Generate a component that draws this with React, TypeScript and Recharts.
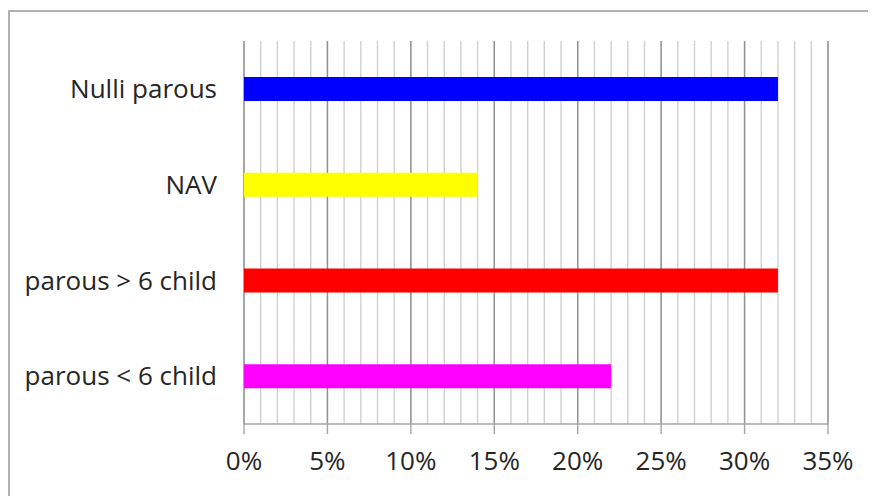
import React from "react";
import { BarChart, Bar, XAxis, YAxis, CartesianGrid, Cell } from "recharts";

const categories = ["Nulli parous", "NAV", "parous > 6 child", "parous < 6 child"];
const values = [32, 14, 32, 22];
const colors = ["#0000ff", "#ffff00", "#ff0000", "#ff00ff"];
const majorTicks = [0, 5, 10, 15, 20, 25, 30, 35];
const allTicks = Array.from({ length: 36 }, (_, i) => i);
const DOMAIN_MAX = 35;

const data = categories.map((c, i) => ({ name: c, value: values[i] }));

const FONT = "'Open Sans', sans-serif";

const minorGen = (props: any) => {
  const scale = props?.xAxis?.scale;
  if (typeof scale === "function") return allTicks.map((t) => scale(t));
  if (scale && typeof scale.map === "function") return allTicks.map((t) => scale.map(t));
  const off = props?.offset;
  if (!off) return [];
  return allTicks.map((t) => off.left + (off.width * t) / DOMAIN_MAX);
};

export default function App() {
  return (
    <div style={{ position: "relative", width: 868, height: 488, overflow: "hidden", background: "#fff" }}>
      <div
        style={{
          position: "absolute",
          left: 0,
          top: 2,
          width: 900,
          height: 520,
          border: "2px solid #b0b0b0",
          boxSizing: "border-box",
        }}
      />
      <div style={{ position: "absolute", left: 0, top: 0 }}>
        <BarChart
          width={868}
          height={488}
          data={data}
          layout="vertical"
          margin={{ top: 33, right: 48, bottom: 42, left: 0 }}
          barSize={24}
        >
          <CartesianGrid
            horizontal={false}
            vertical={true}
            stroke="#d0d0d0"
            strokeWidth={1.4}
            verticalCoordinatesGenerator={minorGen}
          />
          <CartesianGrid horizontal={false} vertical={true} stroke="#919191" strokeWidth={1.4} />
          <XAxis
            type="number"
            domain={[0, DOMAIN_MAX]}
            ticks={majorTicks}
            tickFormatter={(v) => `${v}%`}
            height={30}
            tickSize={10}
            tickMargin={18}
            stroke="#a6a6a6"
            strokeWidth={1.4}
            tick={{ fill: "#262626", fontSize: 26, fontFamily: FONT }}
            interval={0}
          />
          <YAxis
            type="category"
            dataKey="name"
            width={236}
            tickSize={0}
            tickMargin={27}
            axisLine={false}
            tickLine={false}
            tick={{ fill: "#262626", fontSize: 26, fontFamily: FONT }}
          />
          <Bar dataKey="value" isAnimationActive={false}>
            {data.map((d, i) => (
              <Cell key={d.name} fill={colors[i]} />
            ))}
          </Bar>
        </BarChart>
      </div>
    </div>
  );
}
